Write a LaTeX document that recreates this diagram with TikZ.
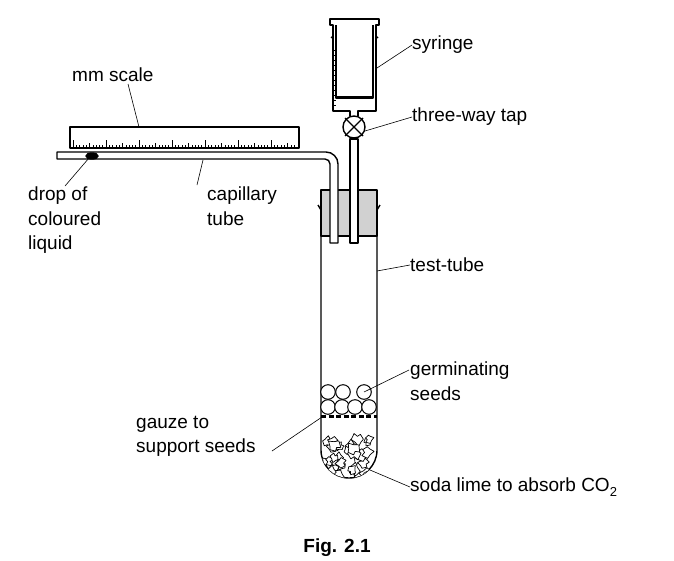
\documentclass[tikz,border=0pt]{standalone}
\usepackage{fontspec}
\setmainfont{Liberation Sans}
\begin{document}
\begin{tikzpicture}[x=1pt,y=-1pt,line join=round,
  wall/.style={line width=1.4pt},
  lead/.style={line width=0.6pt},
  lbl/.style={font=\fontsize{19}{24.5}\selectfont,inner sep=0pt,align=left}]
\useasboundingbox (0,0) rectangle (674,560);
% stopper
\draw[wall,fill=black!18] (321,190) rectangle (377,236);
% test tube
\draw[wall] (321,205) -- (321,450) arc[start angle=180,end angle=0,radius=28] -- (377,205);
\draw[wall] (318,205) -- (321,210) (380,205) -- (377,210);
% capillary tube
\draw[wall,fill=white] (57,152) -- (326,152) arc[start angle=-90,end angle=0,radius=12] -- (338,243) -- (330,243) -- (330,164) arc[start angle=0,end angle=-90,radius=5] -- (325,159) -- (57,159) -- cycle;
\draw[wall,fill=black] (92,156) ellipse[x radius=6,y radius=3];
% syringe tube
\draw[wall,fill=white] (350,139) rectangle (358,243);
% tap
\draw[wall,fill=white] (354,127) circle[radius=11];
\draw[wall] (345,118) -- (363,136) (363,118) -- (345,136);
% syringe
\draw[wall] (350,116) -- (350,111) -- (333,111) -- (333,25) -- (330,25) -- (330,19) -- (379,19) -- (379,25) -- (376,25) -- (376,111) -- (358,111) -- (358,116);
\draw[wall] (336,25) -- (336,98) -- (373,98) -- (373,25);
\draw[line width=2.2pt] (336,97) -- (373,97);
\foreach \y in {50,55,...,108} \draw[line width=0.5pt] (333,\y) -- (336,\y);
\draw[wall] (331,38)--(333,36) (378,38)--(376,36);
% mm scale
\draw[wall,fill=white] (70,127) rectangle (299,148);
\foreach \i in {0,...,67}{
  \pgfmathsetmacro\h{mod(\i,10)==0?8:(mod(\i,5)==0?5.5:3.5)}
  \draw[line width=0.5pt] ({73+3.3*\i},148) -- ++(0,-\h);}
% seeds
\foreach \x/\y in {328/392,343/392,364/392,328/407,342/407,355/407,369/407}
  \draw[line width=1pt,fill=white] (\x,\y) circle[radius=7.3];
\draw[line width=3pt,dash pattern=on 5pt off 2.5pt] (321,416) -- (377,416);
% soda lime
\begin{scope}
\clip (321,432) -- (321,450) arc[start angle=180,end angle=0,radius=28] -- (377,432) -- cycle;
\pgfmathsetseed{11}
\foreach \i in {1,...,38}{
  \pgfmathsetmacro\cx{324+50*rnd}\pgfmathsetmacro\cy{439+38*rnd}
  \pgfmathsetmacro\r{4+3.5*rnd}\pgfmathsetmacro\a{360*rnd}
  \draw[line width=0.7pt,fill=white,rotate around={\a:(\cx,\cy)}] (\cx+\r,\cy) -- (\cx+0.4*\r,\cy-0.5*\r) -- (\cx+0.1*\r,\cy-0.9*\r) -- (\cx-0.7*\r,\cy-0.6*\r) -- (\cx-0.5*\r,\cy-0.1*\r) -- (\cx-\r,\cy+0.3*\r) -- (\cx-0.2*\r,\cy+0.9*\r) -- (\cx+0.3*\r,\cy+0.4*\r) -- cycle;}
\end{scope}
% labels
\node[lbl,anchor=west] (l1) at (412,45) {syringe};
\draw[lead] (377,68) -- (l1.west);
\node[lbl,anchor=west] (l2) at (412,117) {three-way tap};
\draw[lead] (365,131) -- (l2.west);
\node[lbl,anchor=west] (l3) at (410,265) {test-tube};
\draw[lead] (377,271) -- (l3.west);
\node[lbl,anchor=north west] (l4) at (410,362) {germinating\\seeds};
\draw[lead] (364,392) -- (409,370);
\node[lbl,anchor=north west] (l5) at (136,416) {gauze to\\support seeds};
\draw[lead] (272,451) -- (322,417);
\node[lbl,anchor=west] (l6) at (410,487) {soda lime to absorb CO\raisebox{-0.3em}{\fontsize{13}{13}\selectfont 2}};
\draw[lead] (370,470) -- (l6.west);
\node[lbl,anchor=west] (l7) at (72,75) {mm scale};
\draw[lead] (128,84) -- (139,127);
\node[lbl,anchor=north west] (l8) at (28,187) {drop of\\coloured\\liquid};
\draw[lead] (65,186) -- (89,158);
\node[lbl,anchor=north west] (l9) at (207,187) {capillary\\tube};
\draw[lead] (197,185) -- (203,160);
\node[lbl,font=\fontsize{19}{24}\selectfont\bfseries] (fig) at (337,548) {Fig. 2.1};
\end{tikzpicture}
\end{document}
